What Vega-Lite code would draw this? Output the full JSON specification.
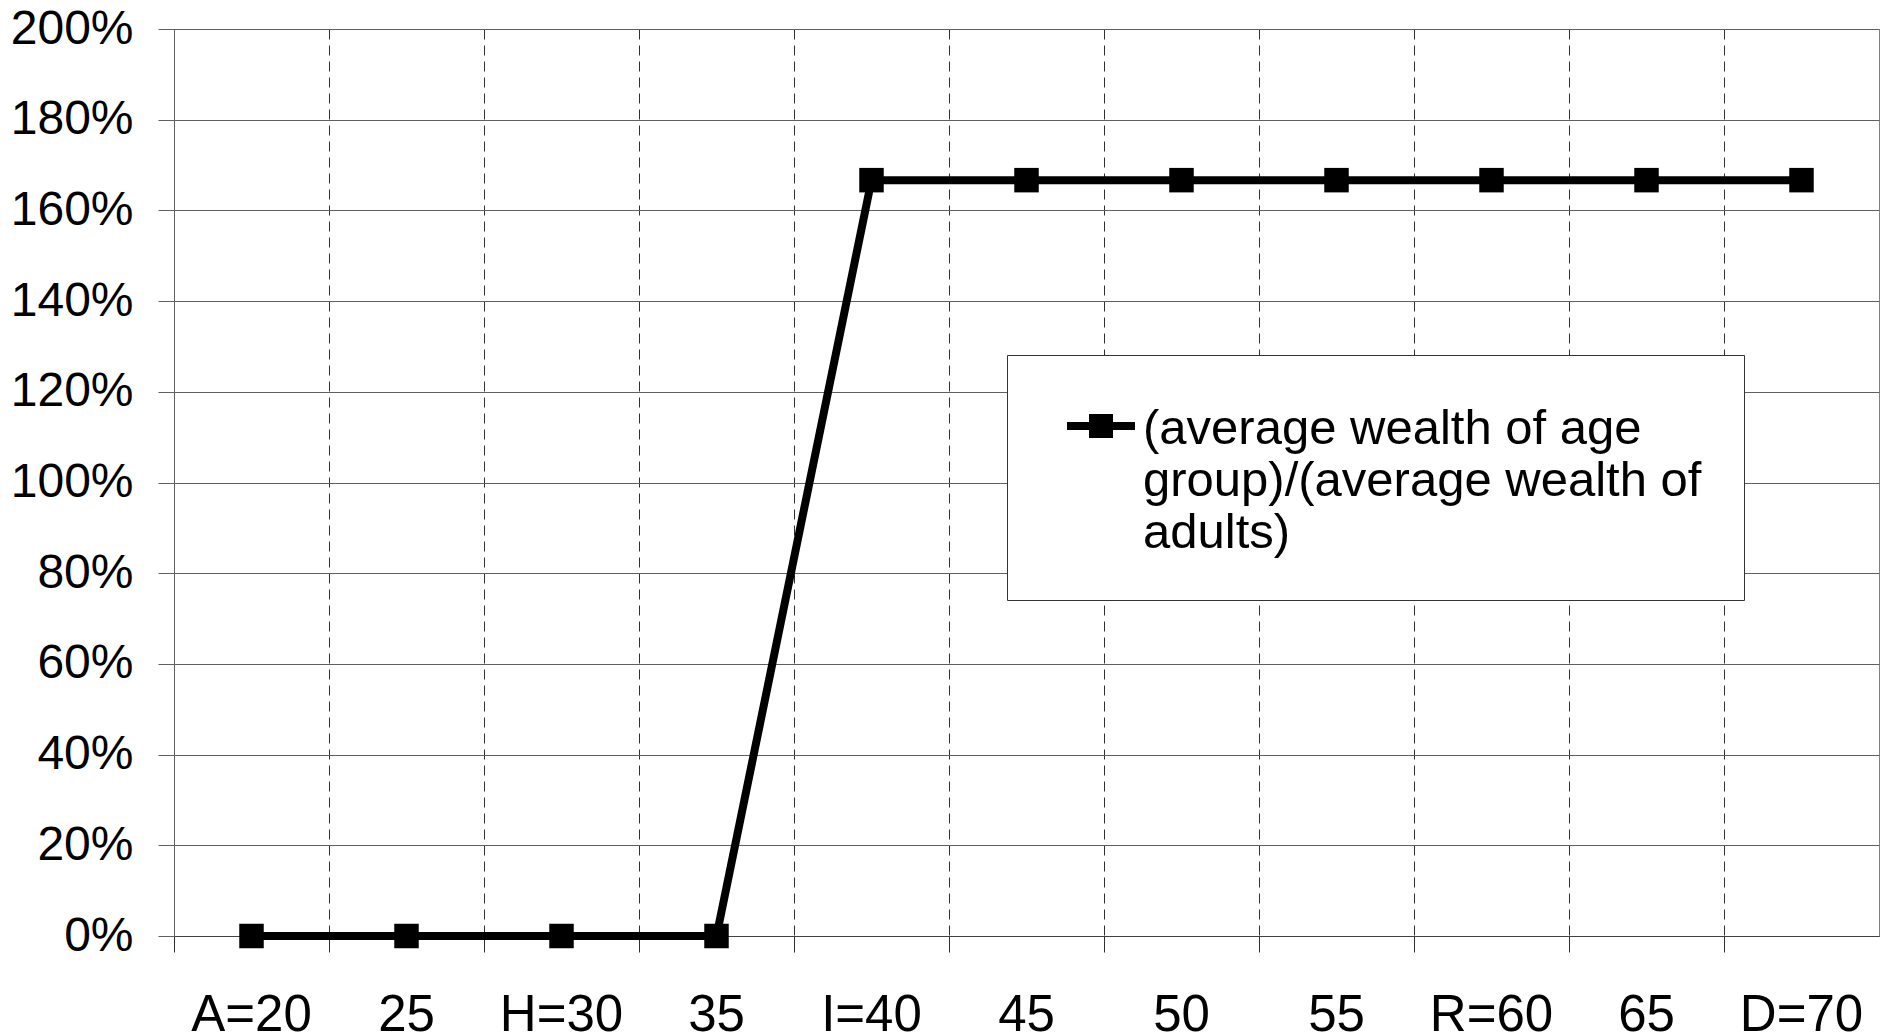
{
  "$schema": "https://vega.github.io/schema/vega-lite/v6.json",
  "width": 1705,
  "height": 907,
  "autosize": {"type": "none"},
  "padding": {"left": 174, "top": 29, "right": 2, "bottom": 98},
  "background": "white",
  "config": {
    "font": "Liberation Sans",
    "view": {"stroke": "#808080", "strokeWidth": 1},
    "style": {"guide-label": {"lineHeight": 52}}
  },
  "data": {
    "values": [
      {"age": "A=20", "ratio": 0, "series": "(average wealth of age group)/(average wealth of adults)"},
      {"age": "25", "ratio": 0, "series": "(average wealth of age group)/(average wealth of adults)"},
      {"age": "H=30", "ratio": 0, "series": "(average wealth of age group)/(average wealth of adults)"},
      {"age": "35", "ratio": 0, "series": "(average wealth of age group)/(average wealth of adults)"},
      {"age": "I=40", "ratio": 1.6667, "series": "(average wealth of age group)/(average wealth of adults)"},
      {"age": "45", "ratio": 1.6667, "series": "(average wealth of age group)/(average wealth of adults)"},
      {"age": "50", "ratio": 1.6667, "series": "(average wealth of age group)/(average wealth of adults)"},
      {"age": "55", "ratio": 1.6667, "series": "(average wealth of age group)/(average wealth of adults)"},
      {"age": "R=60", "ratio": 1.6667, "series": "(average wealth of age group)/(average wealth of adults)"},
      {"age": "65", "ratio": 1.6667, "series": "(average wealth of age group)/(average wealth of adults)"},
      {"age": "D=70", "ratio": 1.6667, "series": "(average wealth of age group)/(average wealth of adults)"}
    ]
  },
  "encoding": {
    "x": {
      "field": "age",
      "type": "nominal",
      "sort": null,
      "scale": {"type": "band", "paddingInner": 0, "paddingOuter": 0},
      "axis": {
        "title": null,
        "bandPosition": 0,
        "grid": true,
        "gridDash": [10, 6],
        "gridColor": "#303030",
        "gridWidth": 1,
        "ticks": true,
        "tickSize": 16,
        "tickColor": "#303030",
        "domain": true,
        "domainColor": "#404040",
        "labelPadding": 38,
        "labelFontSize": 51,
        "labelColor": "black",
        "labelAngle": 0,
        "labelFont": "Liberation Sans"
      }
    },
    "y": {
      "field": "ratio",
      "type": "quantitative",
      "scale": {"domain": [0, 2], "nice": false},
      "axis": {
        "title": null,
        "values": [0, 0.2, 0.4, 0.6, 0.8, 1, 1.2, 1.4, 1.6, 1.8, 2],
        "format": ".0%",
        "grid": true,
        "gridColor": "#606060",
        "gridWidth": 1,
        "tickSize": 16,
        "tickColor": "#606060",
        "domainColor": "#606060",
        "labelFontSize": 48,
        "labelPadding": 25,
        "labelColor": "black",
        "labelFont": "Liberation Sans"
      }
    }
  },
  "layer": [
    {
      "mark": {"type": "line", "stroke": "black", "strokeWidth": 8}
    },
    {
      "mark": {"type": "point", "shape": "square", "filled": true, "size": 600, "opacity": 1},
      "encoding": {
        "color": {
          "field": "series",
          "type": "nominal",
          "scale": {"range": ["black"]},
          "legend": {
            "orient": "none",
            "legendX": 833,
            "legendY": 326,
            "title": null,
            "fillColor": "white",
            "strokeColor": "#333333",
            "padding": 42,
            "labelFontSize": 49,
            "labelFont": "Liberation Sans",
            "labelColor": "black",
            "labelLimit": 1000,
            "labelBaseline": "alphabetic",
            "labelOffset": -4.5,
            "symbolOffset": 5.5,
            "symbolType": "M-0.731,-0.462H0.731V-0.29H-0.731Z M-0.258,-0.634H0.258V-0.118H-0.258Z",
            "symbolSize": 8649,
            "symbolStrokeWidth": 0,
            "labelExpr": "['(average wealth of age', 'group)/(average wealth of', 'adults)']",
            "encode": {
              "legend": {"update": {"strokeWidth": {"value": 1.5}}}
            }
          }
        }
      }
    }
  ]
}
